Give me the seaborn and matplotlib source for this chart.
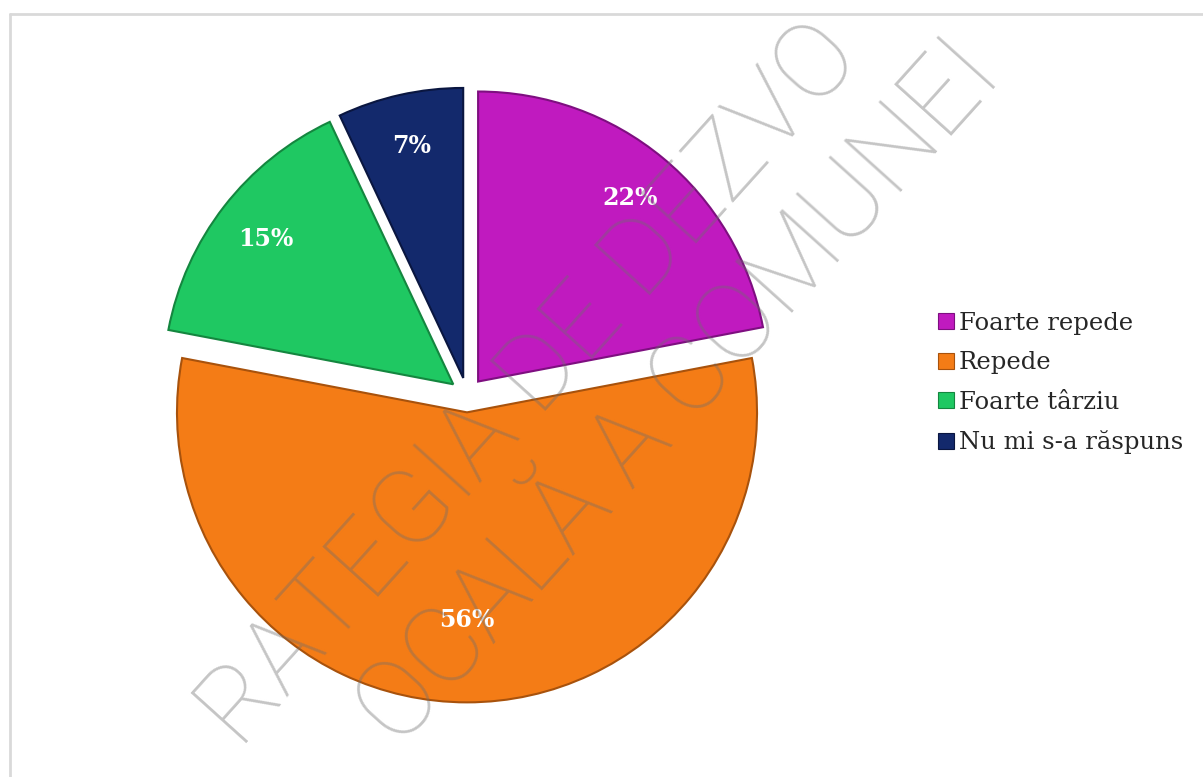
import matplotlib
matplotlib.use("Agg")
import matplotlib.pyplot as plt
from matplotlib.lines import Line2D
import seaborn as sns

categories = ["Foarte repede", "Repede", "Foarte târziu", "Nu mi s-a răspuns"]
shares = [22, 56, 15, 7]
colors = ["#C01ABF", "#F47C16", "#1FC862", "#13296C"]
edges = ["#7E0F80", "#A8520C", "#14863F", "#0A1640"]

sns.set_theme(style="white")
plt.rcParams["font.family"] = ["DejaVu Serif"]

fig = plt.figure(figsize=(12.03, 7.77), dpi=100)
ax = fig.add_axes([0.0989, 0.0438, 0.5786, 0.8958])

wedges, texts, autotexts = ax.pie(
    shares, colors=sns.color_palette(colors), startangle=90, counterclock=False,
    explode=[0.06] * len(shares), autopct="%1.0f%%", pctdistance=0.82,
    wedgeprops=dict(linewidth=1.5),
    textprops=dict(color="white", fontsize=17, fontweight="bold"),
)
for w, ec in zip(wedges, edges):
    w.set_edgecolor(ec)
# the big slice keeps its label closer to the centre
x, y = autotexts[1].get_position()
autotexts[1].set_position((x * 0.88, y * 0.88))

ax.set_xlim(-1.2, 1.2)
ax.set_ylim(-1.2, 1.2)
ax.set_aspect("equal")
ax.axis("off")

handles = [plt.Rectangle((0, 0), 1, 1, facecolor=c, edgecolor=e, linewidth=0.8)
           for c, e in zip(colors, edges)]
fig.legend(handles, categories, loc="center left", bbox_to_anchor=(0.772, 0.507),
           frameon=False, fontsize=17.5, handlelength=0.65, handleheight=0.65,
           handletextpad=0.2, labelspacing=0.68, borderaxespad=0)

# frame lines of the original document
fig.add_artist(Line2D([10 / 1203, 1], [1 - 14 / 777] * 2, color="#d9d9d9", lw=2))
fig.add_artist(Line2D([10 / 1203] * 2, [0, 1 - 14 / 777], color="#d9d9d9", lw=2))

# watermark (only the part that shows inside the picture)
renderer = fig.canvas.get_renderer()
for txt, px, py, length in [("RATEGIA DE DEZVO", 530, 385, 930),
                            ("OCALĂ A COMUNEI", 680, 394, 905)]:
    t = fig.text(px / 1203, 1 - py / 777, txt, ha="center", va="center",
                 fontsize=72, family=["Roboto", "DejaVu Sans"], fontweight="light",
                 color="#6e6e6e", alpha=0.4, zorder=10)
    w = t.get_window_extent(renderer).width
    t.set_fontsize(72 * length / w)
    t.set_rotation(48)
    t.set_rotation_mode("anchor")

fig.savefig("out.png", dpi=100, facecolor="white")
